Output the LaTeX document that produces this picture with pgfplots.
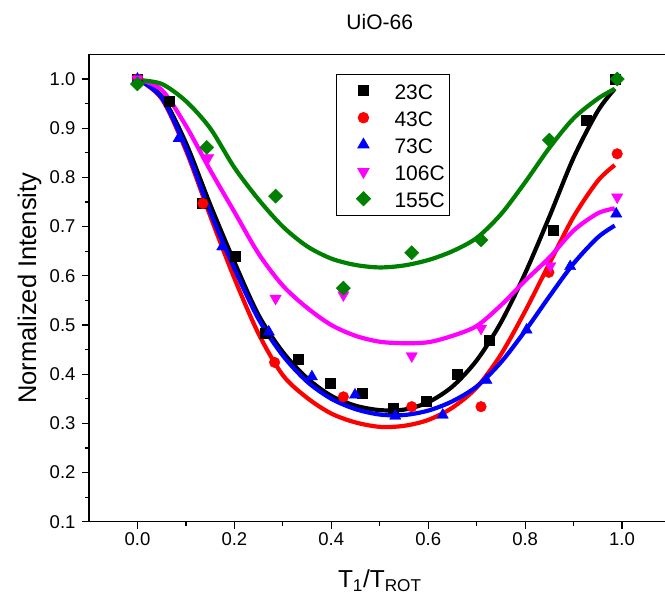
\documentclass[border=0pt]{standalone}
\usepackage{fontspec}
\setmainfont{Liberation Sans}
\usepackage{pgfplots}
\pgfplotsset{compat=1.18}
\definecolor{mgreen}{RGB}{0,128,0}
\definecolor{mmag}{RGB}{255,0,255}
\definecolor{mred}{RGB}{255,0,0}
\definecolor{mblue}{RGB}{0,0,255}
\begin{document}
\begin{tikzpicture}
\begin{axis}[name=ax, scale only axis, width=581.5pt, height=467.4pt,
  xmin=-0.1, xmax=1.1, ymin=0.1, ymax=1.05,
  xtick={0,0.2,0.4,0.6,0.8,1.0}, ytick={0.1,0.2,0.3,0.4,0.5,0.6,0.7,0.8,0.9,1.0},
  minor x tick num=1, minor y tick num=1,
  tick pos=left, tick align=outside, major tick length=7pt, minor tick length=4pt,
  every tick/.style={black, line width=1.2pt},
  axis line style={line width=1.2pt},
  /pgf/number format/assume math mode=true,
  tick label style={font=\fontsize{18.5}{22}\selectfont},
  xticklabel style={/pgf/number format/fixed, /pgf/number format/fixed zerofill, /pgf/number format/precision=1},
  yticklabel style={xshift=-3pt, /pgf/number format/fixed, /pgf/number format/fixed zerofill, /pgf/number format/precision=1},
  title={UiO-66},
  title style={font=\fontsize{21}{25}\selectfont, at={(axis description cs:0.5,1.0407)}, anchor=base},
  xlabel={T\textsubscript{1}/T\textsubscript{ROT}},
  xlabel style={font=\fontsize{24.5}{28}\selectfont, at={(axis description cs:0.5,-0.1412)}, anchor=base},
  ylabel={Normalized Intensity},
  ylabel style={font=\fontsize{25.5}{29}\selectfont, at={(axis description cs:-0.0911,0.5)}, rotate=0, anchor=base},
  legend cell align=left,
  legend image code/.code={\path (-24pt,0pt); \draw[#1] plot coordinates {(0pt,0pt)};},
  legend style={at={(axis cs:0.409,1.01)}, anchor=north west, draw=black, line width=0.8pt,
    font=\fontsize{21}{25}\selectfont, inner xsep=3pt, inner ysep=5pt,
    nodes={inner sep=2pt, text height=18pt, text depth=0.5pt},
    row sep=4.5pt,
    /tikz/every odd column/.append style={column sep=22pt}},
]
% fitted curves
\addplot[black, line width=4.2pt, smooth, forget plot] coordinates {(0,1.0)(0.05,0.965)(0.1,0.87)(0.15,0.745)(0.2,0.628)(0.25,0.52)(0.3,0.445)(0.35,0.392)(0.4,0.356)(0.45,0.336)(0.5,0.327)(0.55,0.328)(0.6,0.343)(0.65,0.375)(0.7,0.428)(0.75,0.505)(0.8,0.605)(0.85,0.72)(0.9,0.84)(0.95,0.935)(0.985,0.98)};
\addplot[mred, line width=4.2pt, smooth, forget plot] coordinates {(0,1.0)(0.05,0.96)(0.1,0.855)(0.15,0.722)(0.2,0.595)(0.25,0.482)(0.3,0.398)(0.35,0.352)(0.4,0.32)(0.45,0.302)(0.5,0.293)(0.55,0.295)(0.6,0.307)(0.65,0.332)(0.7,0.373)(0.75,0.44)(0.8,0.528)(0.85,0.625)(0.9,0.72)(0.95,0.793)(0.985,0.825)};
\addplot[mblue, line width=4.2pt, smooth, forget plot] coordinates {(0,1.0)(0.05,0.962)(0.1,0.86)(0.15,0.73)(0.2,0.615)(0.25,0.512)(0.3,0.438)(0.35,0.385)(0.4,0.35)(0.45,0.329)(0.5,0.318)(0.55,0.317)(0.6,0.326)(0.65,0.345)(0.7,0.375)(0.75,0.424)(0.8,0.488)(0.85,0.558)(0.9,0.625)(0.95,0.678)(0.985,0.702)};
\addplot[mmag, line width=4.2pt, smooth, forget plot] coordinates {(0,1.0)(0.05,0.978)(0.1,0.905)(0.15,0.815)(0.2,0.73)(0.25,0.645)(0.3,0.58)(0.35,0.535)(0.4,0.5)(0.45,0.478)(0.5,0.466)(0.55,0.463)(0.6,0.465)(0.65,0.478)(0.7,0.498)(0.75,0.54)(0.8,0.59)(0.85,0.637)(0.9,0.692)(0.95,0.727)(0.985,0.737)};
\addplot[mgreen, line width=4.2pt, smooth, forget plot] coordinates {(0,0.998)(0.05,0.99)(0.1,0.955)(0.15,0.9)(0.2,0.82)(0.25,0.755)(0.3,0.7)(0.35,0.66)(0.4,0.635)(0.45,0.622)(0.5,0.617)(0.55,0.621)(0.6,0.632)(0.65,0.65)(0.7,0.677)(0.75,0.725)(0.8,0.79)(0.85,0.86)(0.9,0.92)(0.95,0.96)(0.985,0.98)};
% data points
\addplot[only marks, mark=square*, mark size=5pt, black] coordinates {(0,1.0)(0.066,0.954)(0.133,0.747)(0.202,0.639)(0.264,0.483)(0.331,0.430)(0.398,0.381)(0.463,0.362)(0.528,0.331)(0.596,0.346)(0.660,0.400)(0.726,0.470)(0.858,0.693)(0.926,0.917)(0.985,1.0)};
\addlegendentry{23C}
\addplot[only marks, mark=*, mark size=5.3pt, mred] coordinates {(0,1.0)(0.135,0.747)(0.283,0.424)(0.425,0.354)(0.566,0.334)(0.709,0.334)(0.849,0.607)(0.990,0.848)};
\addlegendentry{43C}
\addplot[only marks, mark=triangle*, mark size=6.5pt, mblue] coordinates {(0,1.0)(0.085,0.879)(0.175,0.659)(0.271,0.486)(0.360,0.395)(0.449,0.358)(0.532,0.315)(0.630,0.317)(0.720,0.388)(0.803,0.490)(0.893,0.619)(0.988,0.726)};
\addlegendentry{73C}
\addplot[only marks, mark=triangle*, mark size=6.5pt, mark options={rotate=180}, mmag] coordinates {(0,1.0)(0.146,0.840)(0.285,0.554)(0.425,0.561)(0.566,0.437)(0.709,0.493)(0.852,0.620)(0.990,0.760)};
\addlegendentry{106C}
\addplot[only marks, mark=square*, mark size=5pt, mark options={rotate=45}, mgreen] coordinates {(0,0.990)(0.143,0.861)(0.285,0.762)(0.425,0.575)(0.566,0.647)(0.709,0.673)(0.850,0.876)(0.990,1.0)};
\addlegendentry{155C}
\end{axis}
\pgfresetboundingbox
\path[use as bounding box] ([shift={(-89pt,-81.2pt)}]ax.south west) rectangle ([shift={(576pt,521.8pt)}]ax.south west);
\end{tikzpicture}
\end{document}
